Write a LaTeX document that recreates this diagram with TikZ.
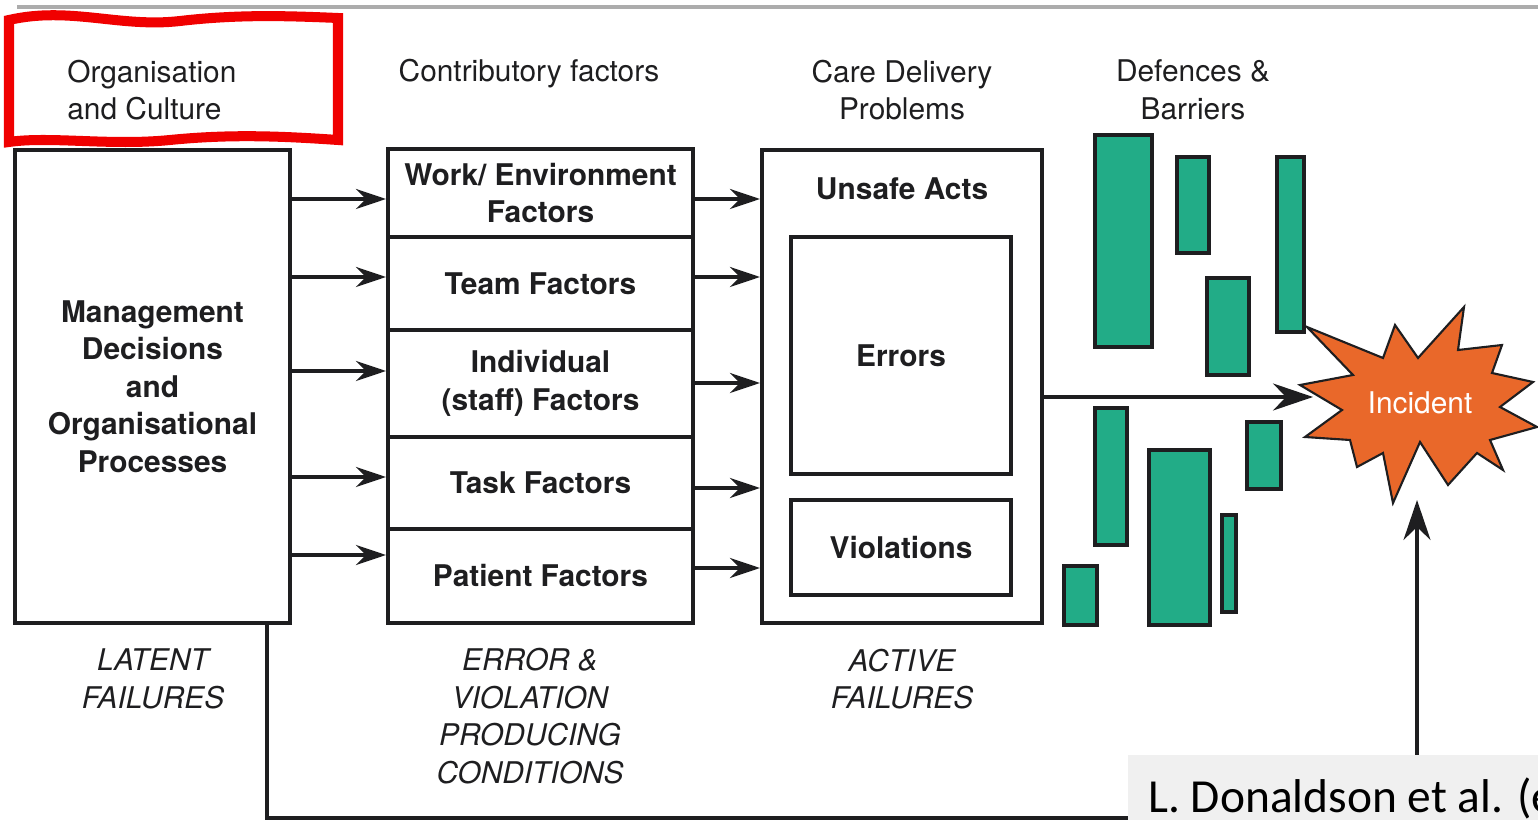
\documentclass[tikz,border=0pt]{standalone}
\usepackage{fontspec}
\setmainfont{TeX Gyre Heros}
\newfontfamily\citefont{Carlito}
\usetikzlibrary{arrows.meta}
\definecolor{barrier}{RGB}{34,172,135}
\definecolor{burst}{RGB}{233,104,42}
\definecolor{tagred}{RGB}{240,0,0}
\definecolor{notegray}{RGB}{240,240,240}
\definecolor{ink}{RGB}{30,30,32}

\begin{document}
\begin{tikzpicture}[x=0.02cm,y=-0.02cm,
  every node/.style={text=ink,font=\fontsize{17}{21.3}\selectfont},
  box/.style={draw=ink,line width=2.3pt,align=center,inner sep=0pt,
    font=\fontsize{17}{21.3}\selectfont\bfseries},
  factor/.style={box,minimum width=6.1cm},
  head/.style={align=center},
  failure/.style={align=center,font=\fontsize{17}{21.3}\selectfont\itshape},
  arr/.style={draw=ink,line width=2.2pt,-{Stealth[length=6mm,width=4mm]}},
  bigarr/.style={draw=ink,line width=2pt,-{Stealth[length=8mm,width=5.4mm]}},
  bar/.style={draw=ink,fill=barrier,line width=2.2pt}]

  \useasboundingbox (0,0) rectangle (1538,820);
  \clip (0,0) rectangle (1538,820);

  \draw[gray!65,line width=2pt] (17,7) -- (1538,7);

  % headings
  \draw[tagred,line width=5.7pt] (9,20) .. controls (70,6) and (120,28) .. (180,21)
    .. controls (240,14) and (290,16) .. (338,18) -- (338,140)
    .. controls (280,136) and (230,134) .. (170,140)
    .. controls (110,146) and (50,136) .. (9,142) -- cycle;
  \node[anchor=west,align=left,inner sep=0pt] (org) at (67,90) {Organisation\\and Culture};
  \node[head] (contrib) at (529,74) {Contributory factors};
  \node[head] (care) at (902,90) {Care Delivery\\Problems};
  \node[head] (defence) at (1193,90) {Defences \&\\Barriers};

  % boxes
  \node[box,minimum width=5.5cm,minimum height=9.46cm] (mgmt) at (152.5,386.5)
    {Management\\Decisions\\and\\Organisational\\Processes};

  \node[factor,minimum height=1.76cm] (work) at (540.5,193) {Work/ Environment\\Factors};
  \node[factor,minimum height=1.86cm] (team) at (540.5,283.5) {Team Factors};
  \node[factor,minimum height=2.14cm] (indiv) at (540.5,383.5) {Individual\\(staff) Factors};
  \node[factor,minimum height=1.84cm] (task) at (540.5,483) {Task Factors};
  \node[factor,minimum height=1.88cm] (patient) at (540.5,576) {Patient Factors};

  \node[box,minimum width=5.6cm,minimum height=9.46cm] (cdp) at (902,386.5) {};
  \node[font=\fontsize{17}{21.3}\selectfont\bfseries] (unsafe) at (902,189) {Unsafe Acts};
  \node[box,minimum width=4.4cm,minimum height=4.74cm] (errors) at (901,355.5) {Errors};
  \node[box,minimum width=4.4cm,minimum height=1.9cm] (violations) at (901,547.5) {Violations};

  % barriers
  \foreach \xa/\ya/\xb/\yb in {1095/135/1152/347, 1177/157/1209/253, 1277/157/1304/332,
      1207/278/1249/375, 1095/408/1127/545, 1247/422/1281/489, 1149/450/1210/625,
      1222/515/1236/612, 1064/566/1097/625}
    \draw[bar] (\xa,\ya) rectangle (\xb,\yb);

  % incident
  \draw[draw=ink,fill=burst,line width=1.2pt] (1464,307) -- (1458,350) -- (1502,345)
    -- (1492,373) -- (1533,382) -- (1500,407) -- (1537,427) -- (1490,440)
    -- (1503,470) -- (1477,453) -- (1448,485) -- (1420,442) -- (1393,503)
    -- (1383,453) -- (1357,467) -- (1350,440) -- (1305,437) -- (1342,410)
    -- (1300,385) -- (1353,375) -- (1307,327) -- (1383,358) -- (1395,325)
    -- (1418,358) -- cycle;
  \node[text=white] (inc) at (1420,403) {Incident};
  \coordinate (incL) at (1313,397);
  \coordinate (incB) at (1417,500);

  % arrows
  \foreach \y/\n in {199/work,277/team,371/indiv,477/task,555/patient}
    \draw[arr] (mgmt.east |- 0,\y) -- (\n.west |- 0,\y);
  \foreach \y/\n in {199/work,277/team,383/indiv,488/task,568/patient}
    \draw[arr] (\n.east |- 0,\y) -- (cdp.west |- 0,\y);
  \draw[bigarr] (cdp.east |- incL) -- (incL);
  \draw[bigarr] (mgmt.south -| 267,0) -- (267,818) -| (incB);

  % failure labels
  \node[failure] (latent) at (153,679) {LATENT\\FAILURES};
  \node[failure] (evpc) at (530,716) {ERROR \&\\VIOLATION\\PRODUCING\\CONDITIONS};
  \node[failure] (active) at (902,679) {ACTIVE\\FAILURES};

  % source
  \fill[notegray] (1128,755) rectangle (1538,820);
  \node[anchor=base west,inner sep=0pt,text=black,font=\citefont\fontsize{27}{32}\selectfont]
    (cite) at (1148,812) {L. Donaldson et al. (e};

\end{tikzpicture}
\end{document}
